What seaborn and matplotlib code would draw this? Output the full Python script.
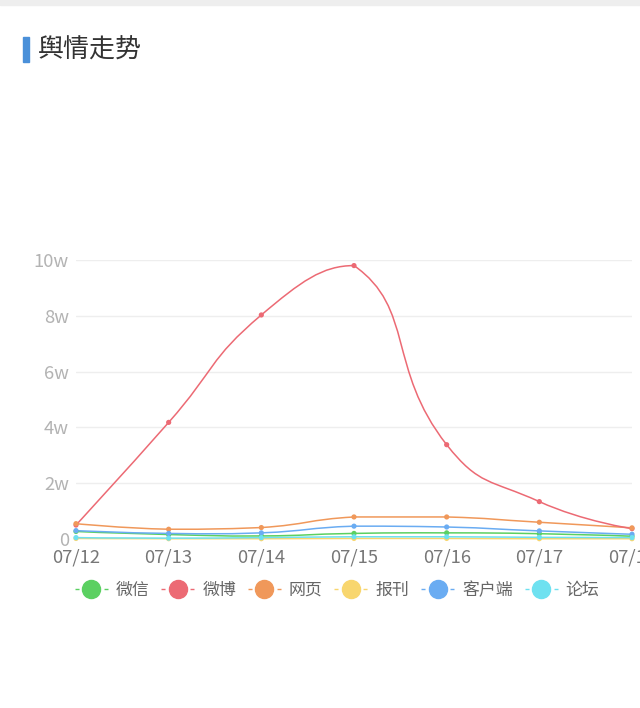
import numpy as np
import pandas as pd
import matplotlib
matplotlib.use("Agg")
import matplotlib.pyplot as plt
from matplotlib.path import Path
from matplotlib.patches import PathPatch, Rectangle
from matplotlib.lines import Line2D
from matplotlib.ticker import FuncFormatter
import seaborn as sns

# ── data (unit: w = 10,000) ─────────────────────────────────────
DATES    = ["07/12", "07/13", "07/14", "07/15", "07/16", "07/17", "07/18"]
SERIES   = ["微信", "微博", "网页", "报刊", "客户端", "论坛"]
weixin   = [0.27, 0.16, 0.11, 0.20, 0.22, 0.19, 0.10]
weibo    = [0.50, 4.18, 8.03, 9.80, 3.38, 1.34, 0.37]
wangye   = [0.55, 0.35, 0.41, 0.79, 0.79, 0.60, 0.40]
baokan   = [0.02, 0.01, 0.01, 0.02, 0.02, 0.01, 0.01]
kehuduan = [0.30, 0.20, 0.22, 0.46, 0.43, 0.29, 0.17]
luntan   = [0.05, 0.03, 0.05, 0.08, 0.08, 0.06, 0.05]
Y_TICKS  = [0, 2, 4, 6, 8, 10]

COLORS = {
    "微信"  : "#5bd061",
    "微博"  : "#ec6a74",
    "网页"  : "#f0985a",
    "报刊"  : "#f8d66e",
    "客户端": "#6aacf2",
    "论坛"  : "#6ee1f0",
}

values = dict(zip(SERIES, [weixin, weibo, wangye, baokan, kehuduan, luntan]))
df = pd.DataFrame([
    {"x": i, "date": d, "series": s, "value": values[s][i]}
    for s in SERIES for i, d in enumerate(DATES)
])

sns.set_theme(style="white")
plt.rcParams["font.family"] = ["Noto Sans CJK SC", "DejaVu Sans"]

W, H = 640, 708
fig = plt.figure(figsize=(W / 100, H / 100), dpi=100)
ax = fig.add_axes([76 / W, 1 - 539 / H, (632 - 76) / W, (539 - 260) / H])
ax.set_xlim(0, len(DATES) - 1)
ax.set_ylim(0, 10)


def smooth_path(ax, xs, ys, smooth=0.5):
    # echarts-style bezier smoothing (bounding-box constrained), display space
    pts = ax.transData.transform(np.column_stack([xs, ys]))
    lo, hi = pts.min(axis=0), pts.max(axis=0)
    n = len(pts)
    cin, cout = [pts[0]] * n, [pts[0]] * n
    for i in range(n):
        p = pts[i]
        if i == 0 or i == n - 1:
            cin[i] = cout[i] = p
            continue
        prev, nxt = pts[i - 1], pts[i + 1]
        v = nxt - prev
        d0 = np.hypot(*(p - prev))
        d1 = np.hypot(*(nxt - p))
        r = d1 / (d0 + d1)
        cin[i] = np.clip(p - v * smooth * (1 - r), lo, hi)
        cout[i] = np.clip(p + v * smooth * r, lo, hi)
    verts, codes = [pts[0]], [Path.MOVETO]
    for i in range(n - 1):
        verts += [cout[i], cin[i + 1], pts[i + 1]]
        codes += [Path.CURVE4] * 3
    verts = ax.transData.inverted().transform(np.array(verts))
    return Path(verts, codes)


draw_order = ["报刊", "论坛", "微信", "客户端", "网页", "微博"]
for z, s in enumerate(draw_order):
    sub = df[df["series"] == s]
    ax.add_patch(PathPatch(smooth_path(ax, sub["x"].values, sub["value"].values),
                           fill=False, edgecolor=COLORS[s], lw=1.1,
                           zorder=3 + z, clip_on=False))

sns.scatterplot(data=df, x="x", y="value", hue="series", palette=COLORS,
                s=14, linewidth=0, legend=False, ax=ax, zorder=10,
                clip_on=False)

ax.set_yticks(Y_TICKS)
ax.yaxis.set_major_formatter(FuncFormatter(lambda v, _: "0" if v == 0 else f"{v:g}w"))
ax.set_xticks(range(len(DATES)))
ax.set_xticklabels(DATES)
ax.tick_params(axis="both", length=0, labelsize=13.3)
ax.tick_params(axis="y", pad=5, colors="#b3b3b3")
ax.tick_params(axis="x", pad=6.5, colors="#777777")
ax.set_xlabel("")
ax.set_ylabel("")
ax.grid(True, axis="y", color="#eeeeee", lw=1)
ax.grid(False, axis="x")
for sp in ax.spines.values():
    sp.set_visible(False)

# legend  (-●- style handles)
handles = [Line2D([0], [0], color=COLORS[s], marker="o", markersize=13,
                  linestyle=(0, (2.9, 18)), lw=1.0) for s in SERIES]
fig.legend(handles, SERIES, loc="center", bbox_to_anchor=(337 / W, 1 - 590 / H),
           ncol=6, frameon=False, fontsize=12.2, handlelength=1.95,
           handletextpad=0.47, columnspacing=0.7, labelcolor="#666666")

# header
fig.patches.append(Rectangle((0, 1 - 5 / H), 1, 5 / H, transform=fig.transFigure,
                             color="#eeeeee", zorder=0))
fig.patches.append(Rectangle((23 / W, 1 - 62 / H), 6 / W, 25 / H,
                             transform=fig.transFigure, color="#4a90d9", zorder=1))
fig.text(38 / W, 1 - 50 / H, "舆情走势", fontsize=18.7, color="#333333",
         va="center", ha="left")

fig.savefig("out.png", dpi=100)
plt.close(fig)
